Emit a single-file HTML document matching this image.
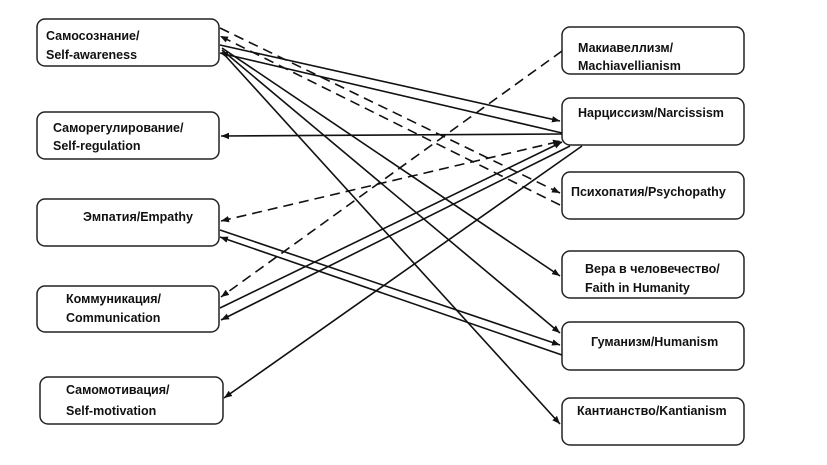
<!DOCTYPE html>
<html><head><meta charset="utf-8"><style>
html,body{margin:0;padding:0;background:#fff;width:827px;height:465px;overflow:hidden}
svg text{font-family:"Liberation Sans","Noto Sans CJK SC",sans-serif;font-weight:bold;font-size:12.5px;fill:#111}
</style></head><body>
<svg width="827" height="465" viewBox="0 0 827 465" xmlns="http://www.w3.org/2000/svg">
<defs>
<marker id="a" viewBox="0 0 10 10" refX="10" refY="5" markerWidth="8" markerHeight="8" markerUnits="userSpaceOnUse" orient="auto-start-reverse"><path d="M0,1 L10,5 L0,9 z" fill="#111"/></marker>
</defs>
<g fill="#fff" stroke="#222" stroke-width="1.5">
<rect x="37" y="19" width="182" height="47" rx="8"/>
<rect x="37" y="112" width="182" height="47" rx="8"/>
<rect x="37" y="199" width="182" height="47" rx="8"/>
<rect x="37" y="286" width="182" height="46" rx="8"/>
<rect x="40" y="377" width="183" height="47" rx="8"/>
<rect x="562" y="27" width="182" height="47" rx="8"/>
<rect x="562" y="98" width="182" height="47" rx="8"/>
<rect x="562" y="172" width="182" height="47" rx="8"/>
<rect x="562" y="251" width="182" height="47" rx="8"/>
<rect x="562" y="322" width="182" height="48" rx="8"/>
<rect x="562" y="398" width="182" height="47" rx="8"/>
</g>
<g stroke="#111" stroke-width="1.6" fill="none">
<line x1="220" y1="28" x2="560" y2="193" stroke-dasharray="10,6" marker-end="url(#a)"/>
<line x1="560" y1="205" x2="220" y2="36" stroke-dasharray="10,6" marker-end="url(#a)"/>
<line x1="220" y1="45" x2="560" y2="121" marker-end="url(#a)"/>
<line x1="562" y1="133" x2="220" y2="53" marker-end="url(#a)"/>
<line x1="562" y1="134" x2="221" y2="136" marker-end="url(#a)"/>
<line x1="562" y1="51" x2="221" y2="297" stroke-dasharray="10,6" marker-end="url(#a)"/>
<line x1="221" y1="221" x2="561" y2="141" stroke-dasharray="10,6" marker-start="url(#a)" marker-end="url(#a)"/>
<line x1="220" y1="308" x2="562" y2="142" marker-end="url(#a)"/>
<line x1="570" y1="146" x2="221" y2="320" marker-end="url(#a)"/>
<line x1="582" y1="146" x2="224" y2="398" marker-end="url(#a)"/>
<line x1="222" y1="48" x2="560" y2="276" marker-end="url(#a)"/>
<line x1="222" y1="50" x2="560" y2="333" marker-end="url(#a)"/>
<line x1="222" y1="52" x2="560" y2="424" marker-end="url(#a)"/>
<line x1="220" y1="230" x2="560" y2="345" marker-end="url(#a)"/>
<line x1="562" y1="355" x2="220" y2="237" marker-end="url(#a)"/>
</g>
<text x="46" y="40">Самосознание/</text>
<text x="46" y="59">Self-awareness</text>
<text x="53" y="132">Саморегулирование/</text>
<text x="53" y="150">Self-regulation</text>
<text x="83" y="221">Эмпатия/Empathy</text>
<text x="66" y="303">Коммуникация/</text>
<text x="66" y="322">Communication</text>
<text x="66" y="394">Самомотивация/</text>
<text x="66" y="415">Self-motivation</text>
<text x="578" y="52">Макиавеллизм/</text>
<text x="578" y="70">Machiavellianism</text>
<text x="578" y="117">Нарциссизм/Narcissism</text>
<text x="571" y="196">Психопатия/Psychopathy</text>
<text x="585" y="273">Вера в человечество/</text>
<text x="585" y="292">Faith in Humanity</text>
<text x="591" y="346">Гуманизм/Humanism</text>
<text x="577" y="415">Кантианство/Kantianism</text>
</svg>
</body></html>
